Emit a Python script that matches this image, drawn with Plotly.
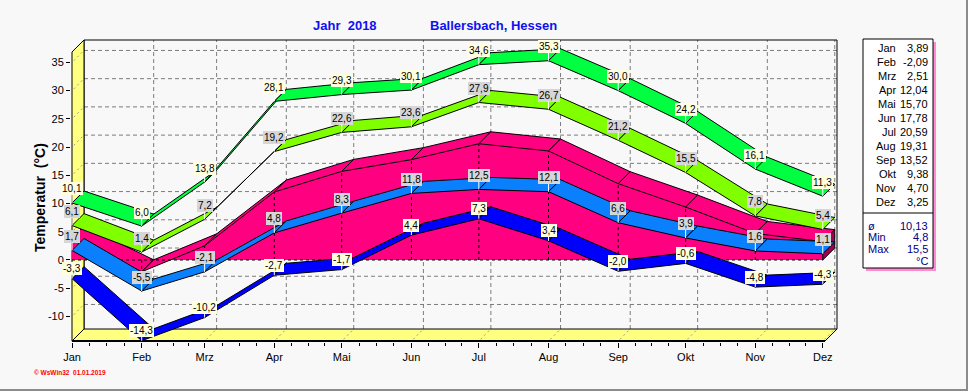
import plotly.graph_objects as go

# ---------------- data ----------------
months = ["Jan", "Feb", "Mrz", "Apr", "Mai", "Jun", "Jul", "Aug", "Sep", "Okt", "Nov", "Dez"]
month_days = [31, 28, 31, 30, 31, 30, 31, 31, 30, 31, 30, 31]
abs_max = [10.1, 6.0, 13.8, 28.1, 29.3, 30.1, 34.6, 35.3, 30.0, 24.2, 16.1, 11.3]
avg_max = [6.1, 1.4, 7.2, 19.2, 22.6, 23.6, 27.9, 26.7, 21.2, 15.5, 7.8, 5.4]
mean_temp = [3.89, -2.09, 2.51, 12.04, 15.70, 17.78, 20.59, 19.31, 13.52, 9.38, 4.70, 3.25]
avg_min = [1.7, -5.5, -2.1, 4.8, 8.3, 11.8, 12.5, 12.1, 6.6, 3.9, 1.6, 1.1]
abs_min = [-3.3, -14.3, -10.2, -2.7, -1.7, 4.4, 7.3, 3.4, -2.0, -0.6, -4.8, -4.3]
y_ticks = [-10, -5, 0, 5, 10, 15, 20, 25, 30, 35]
stats_labels = ["ø", "Min", "Max"]
stats_values = ["10,13", "4,8", "15,5"]

# ---------------- geometry (3D look) ----------------
DX = 5.34      # depth offset in days
DY = 2.12      # depth offset in °C
Y_FLOOR = -14.35
Y_TOP = 36.85
X_END = 335

day_start = [sum(month_days[:i]) for i in range(12)]

FONT = "Liberation Sans, Arial, sans-serif"

def fmt(v, nd=1):
    return f"{v:.{nd}f}".replace(".", ",")

def px_x(px):
    return (px - 71) / 767.0

def px_y(py):
    return (342 - py) / 303.0

fig = go.Figure()

def poly(xs, ys, fill, line_color="black", width=1, dash=None):
    fig.add_trace(go.Scatter(
        x=list(xs) + [xs[0]], y=list(ys) + [ys[0]], mode="lines", fill="toself",
        fillcolor=fill, line=dict(color=line_color, width=width, dash=dash),
        hoverinfo="skip", showlegend=False))

def line(xs, ys, color="black", width=1, dash=None):
    fig.add_trace(go.Scatter(
        x=xs, y=ys, mode="lines", line=dict(color=color, width=width, dash=dash),
        hoverinfo="skip", showlegend=False))

# back plane grid
for v in y_ticks:
    line([DX, X_END + DX], [v + DY, v + DY], color="#7C7C7C", dash="4px,3px")
for d in day_start[1:]:
    line([d + DX, d + DX], [Y_FLOOR + DY, Y_TOP + DY], color="#7C7C7C", dash="4px,3px")
# back plane border
line([DX, DX, X_END + DX, X_END + DX], [Y_FLOOR + DY, Y_TOP + DY, Y_TOP + DY, Y_FLOOR + DY])

# left wall & floor (yellow)
poly([0, 0, DX, DX], [Y_FLOOR, Y_TOP, Y_TOP + DY, Y_FLOOR + DY], "#FFFF80")
poly([0, X_END, X_END + DX, DX], [Y_FLOOR, Y_FLOOR, Y_FLOOR + DY, Y_FLOOR + DY], "#FFFF80")
for v in y_ticks:
    line([0.8, DX - 0.8], [v + 0.3, v + DY - 0.3], color="#999999", dash="2px,3px")
for d in day_start[1:]:
    line([d + 0.8, d + DX - 0.8], [Y_FLOOR + 0.3, Y_FLOOR + DY - 0.3], color="#999999", dash="2px,3px")
line([0, X_END], [Y_FLOOR, Y_FLOOR], width=2.2)

# mean temperature as 3D area
last = day_start[-1]
poly(day_start + [last, 0], mean_temp + [0, 0], "#FF0080", line_color="rgba(0,0,0,0)", width=0)
for i in range(11):
    xa, xb = day_start[i], day_start[i + 1]
    va, vb = mean_temp[i], mean_temp[i + 1]
    poly([xa, xb, xb + DX, xa + DX], [va, vb, vb + DY, va + DY], "#FF0080")
poly([last, last, last + DX, last + DX], [0, mean_temp[-1], mean_temp[-1] + DY, DY], "#A0004C")
line([0, last], [0, 0], dash="dot")
for i in range(1, 11):
    line([day_start[i], day_start[i]], [0, mean_temp[i]], dash="dot")

# ribbons
series = [
    (abs_min, "#0000FF"),
    (avg_min, "#0A80FF"),
    (avg_max, "#80FF00"),
    (abs_max, "#00FF40"),
]
for vals, col in series:
    for i in range(11):
        xa, xb = day_start[i], day_start[i + 1]
        va, vb = vals[i], vals[i + 1]
        poly([xa, xb, xb + DX, xa + DX], [va, vb, vb + DY, va + DY], col)

# data labels
annotations = []
label_sets = [
    (abs_max, "#FFFFE0", -14),
    (avg_max, "#D6D6D6", -14),
    (avg_min, "#D6D6D6", -14),
    (abs_min, "#FFFFE0", -10),
]
for vals, bg, off in label_sets:
    for d, v in zip(day_start, vals):
        annotations.append(dict(
            x=d, y=v, xref="x", yref="y", text=fmt(v), showarrow=True,
            arrowhead=0, arrowwidth=1, arrowcolor="white", ax=0, ay=off, standoff=0,
            bgcolor=bg, bordercolor=bg, borderwidth=1, borderpad=0,
            font=dict(family=FONT, size=10, color="black")))

# titles
annotations.append(dict(xref="paper", yref="paper", x=px_x(311), y=px_y(25),
                        xanchor="left", yanchor="middle", showarrow=False,
                        text="<b>Jahr\u00a0\u00a02018</b>",
                        font=dict(family=FONT, size=13, color="#1010F0")))
annotations.append(dict(xref="paper", yref="paper", x=px_x(428), y=px_y(25),
                        xanchor="left", yanchor="middle", showarrow=False,
                        text="<b>Ballersbach, Hessen</b>",
                        font=dict(family=FONT, size=13, color="#1010F0")))
annotations.append(dict(xref="paper", yref="paper", x=px_x(40), y=px_y(198),
                        xanchor="center", yanchor="middle", showarrow=False, textangle=-90,
                        text="<b>Temperatur\u00a0\u00a0(°C)</b>",
                        font=dict(family=FONT, size=14, color="black")))
annotations.append(dict(xref="paper", yref="paper", x=px_x(32), y=px_y(372),
                        xanchor="left", yanchor="middle", showarrow=False,
                        text="<b>© WsWin32\u00a0\u00a001.01.2019</b>",
                        font=dict(family=FONT, size=6.5, color="#FF0000")))

# side table
for i, (m, v) in enumerate(zip(months, mean_temp)):
    yy = 48.3 + i * 13.95
    annotations.append(dict(xref="paper", yref="paper", x=px_x(898), y=px_y(yy),
                            xanchor="right", yanchor="middle", showarrow=False, text=m,
                            font=dict(family=FONT, size=11, color="black")))
    annotations.append(dict(xref="paper", yref="paper", x=px_x(930), y=px_y(yy),
                            xanchor="right", yanchor="middle", showarrow=False, text=fmt(v, 2),
                            font=dict(family=FONT, size=11, color="black")))
for i, (lab, val) in enumerate(zip(stats_labels, stats_values)):
    yy = 225.7 + i * 11.7
    annotations.append(dict(xref="paper", yref="paper", x=px_x(866), y=px_y(yy),
                            xanchor="left", yanchor="middle", showarrow=False, text=lab,
                            font=dict(family=FONT, size=11, color="#000080")))
    annotations.append(dict(xref="paper", yref="paper", x=px_x(930), y=px_y(yy),
                            xanchor="right", yanchor="middle", showarrow=False, text=val,
                            font=dict(family=FONT, size=11, color="#000080")))
annotations.append(dict(xref="paper", yref="paper", x=px_x(930), y=px_y(261),
                        xanchor="right", yanchor="middle", showarrow=False, text="°C",
                        font=dict(family=FONT, size=11, color="#000080")))

shapes = [
    dict(type="rect", xref="paper", yref="paper", x0=px_x(866), x1=px_x(936),
         y0=px_y(271), y1=px_y(42), fillcolor="#FF8CD0", line=dict(width=0), layer="above"),
    dict(type="rect", xref="paper", yref="paper", x0=px_x(863), x1=px_x(933),
         y0=px_y(268), y1=px_y(39), fillcolor="white", line=dict(color="black", width=1), layer="above"),
    dict(type="line", xref="paper", yref="paper", x0=px_x(863), x1=px_x(933),
         y0=px_y(213), y1=px_y(213), line=dict(color="black", width=1), layer="above"),
    dict(type="line", xref="paper", yref="paper", x0=px_x(967), x1=px_x(967),
         y0=px_y(0), y1=px_y(391), line=dict(color="#8C8C8C", width=2), layer="above"),
    dict(type="line", xref="paper", yref="paper", x0=px_x(0), x1=px_x(968),
         y0=px_y(390), y1=px_y(390), line=dict(color="#8C8C8C", width=2), layer="above"),
]

minor_vals = []
for s, n in zip(day_start, month_days):
    for k in (1, 2, 3):
        if s + n * k / 4 < X_END:
            minor_vals.append(s + n * k / 4)

fig.update_layout(
    width=968, height=391,
    margin=dict(l=71, r=130, t=39, b=49, pad=0),
    paper_bgcolor="#F8F8F8", plot_bgcolor="#F8F8F8",
    showlegend=False,
    annotations=annotations, shapes=shapes,
    xaxis=dict(range=[-0.445, X_END + DX + 0.445], showgrid=False, zeroline=False,
               showline=False, tickmode="array", tickvals=day_start, ticktext=months,
               ticks="outside", ticklen=5, tickcolor="black", tickwidth=1,
               tickfont=dict(family=FONT, size=11, color="black"),
               minor=dict(tickvals=minor_vals, ticks="outside", ticklen=3,
                          tickcolor="black", showgrid=False),
               fixedrange=True),
    yaxis=dict(range=[-14.527, 39.147], showgrid=False, zeroline=False, showline=False,
               tickmode="array", tickvals=y_ticks, ticktext=[str(t) for t in y_ticks],
               ticks="outside", ticklen=4, tickcolor="black", tickwidth=1,
               tickfont=dict(family=FONT, size=11, color="black"), fixedrange=True),
)

fig.write_html("out.html", config={"displayModeBar": False},
               post_script="document.body.style.margin='0';document.body.style.background='#F8F8F8';")
